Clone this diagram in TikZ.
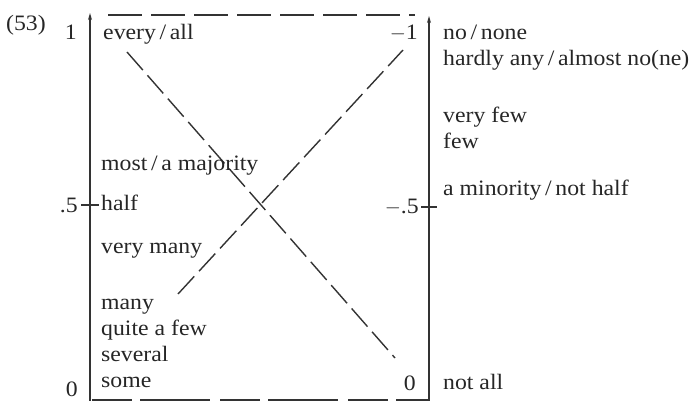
\documentclass[tikz,border=0pt]{standalone}
\usepackage{fontspec}
\setmainfont[FakeStretch=1.08]{Liberation Serif}
\usetikzlibrary{arrows.meta}
\begin{document}
\begin{tikzpicture}[x=1pt,y=-1pt,
  lab/.style={anchor=base west,inner sep=0pt,font=\fontsize{22}{26}\selectfont,text=black!85},
  num/.style={anchor=base east,inner sep=0pt,font=\fontsize{22}{26}\selectfont,text=black!85},
  axis/.style={line width=1.4pt,black!80,-{Stealth[length=7pt,width=4pt]}},
  dline/.style={line width=1.4pt,black!80,dash pattern=on 24pt off 7pt},
  tline/.style={line width=1.4pt,black!80,dash pattern=on 34pt off 9pt}]
\useasboundingbox (0,0) rectangle (694,401);
% axes
\coordinate (lb) at (90,401);
\coordinate (lt) at (90,13);
\coordinate (rb) at (429,401);
\coordinate (rt) at (429,16);
\draw[axis] (lb) -- (lt);
\draw[axis] (rb) -- (rt);
% top and bottom dashed lines
\coordinate (tl) at (108,15);
\coordinate (tr) at (415,15);
\draw[tline] (tl) -- (tr);
\coordinate (bl) at (92,400);
\coordinate (br) at (429,400);
\draw[tline,dash pattern=on 40pt off 8pt on 70pt off 10pt] (bl) -- (br);
% ticks
\coordinate (lt1) at (81,205);
\coordinate (lt2) at (99,205);
\draw[line width=1.3pt,black!80] (lt1) -- (lt2);
\coordinate (rt1) at (421,207);
\coordinate (rt2) at (437,207);
\draw[line width=1.3pt,black!80] (rt1) -- (rt2);
% diagonals
\coordinate (d1a) at (127,52);
\coordinate (d1b) at (395,358);
\draw[dline] (d1a) -- (d1b);
\coordinate (d2a) at (178,294);
\coordinate (d2b) at (403,50);
\draw[dline] (d2a) -- (d2b);
% labels
\node[lab] (ex) at (6,31) {(53)};
\node[num] (n1) at (77,40) {1};
\node[num] (n5) at (78,212) {.5};
\node[num] (n0) at (78,396) {0};
\node[num] (m1) at (418,40) {$-$1};
\node[num] (m5) at (419,214) {$-$.5};
\node[num] (m0) at (416,390) {0};
\node[lab] (a1) at (103,40) {every\,/\,all};
\node[lab] (a2) at (101,171) {most\,/\,a majority};
\node[lab] (a3) at (101,211) {half};
\node[lab] (a4) at (101,253) {very many};
\node[lab] (a5) at (101,309) {many};
\node[lab] (a6) at (101,335) {quite a few};
\node[lab] (a7) at (101,361) {several};
\node[lab] (a8) at (101,387) {some};
\node[lab] (b1) at (443,40) {no\,/\,none};
\node[lab] (b2) at (443,66) {hardly any\,/\,almost no(ne)};
\node[lab] (b3) at (443,123) {very few};
\node[lab] (b4) at (443,149) {few};
\node[lab] (b5) at (443,196) {a minority\,/\,not half};
\node[lab] (b6) at (443,389) {not all};
\end{tikzpicture}
\end{document}
